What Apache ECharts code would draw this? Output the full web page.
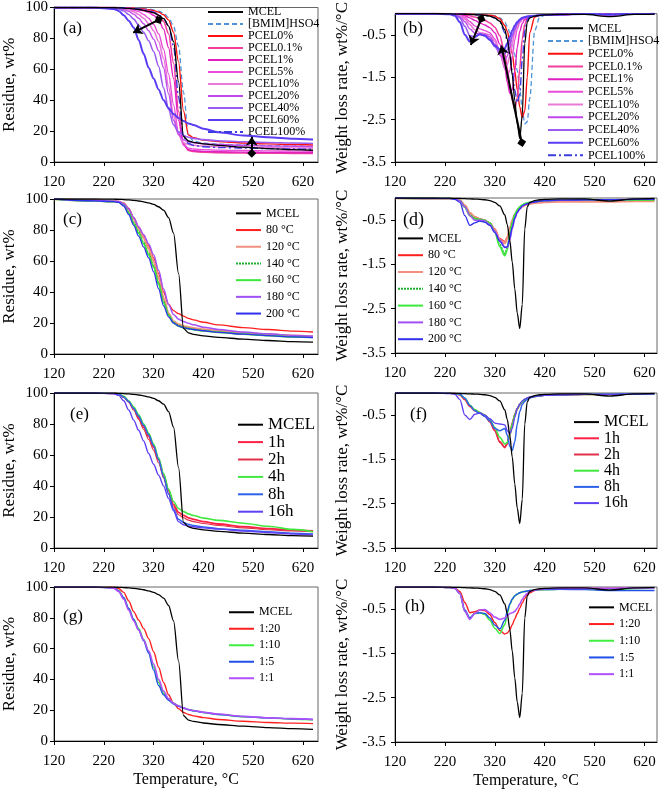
<!DOCTYPE html>
<html><head><meta charset="utf-8">
<script src="https://cdn.jsdelivr.net/npm/echarts@6.0.0/dist/echarts.min.js"></script>
<style>html,body{margin:0;padding:0;background:#fff}#c{width:661px;height:792px}</style>
</head><body><div id="c"></div>
<script>
// ---------- data ----------
const xTicks = [120, 220, 320, 420, 520, 620];
const tgTicks = [0, 20, 40, 60, 80, 100];
const dtgTicks = [-3.5, -2.5, -1.5, -0.5];

// temperature grids (°C)
const tgT  = [120,200,240,250,260,270,280,290,300,310,320,330,340,350,360,370,380,390,400,420,450,500,550,600,640];
const dtgT = [120,200,230,240,250,260,270,280,290,300,310,320,330,340,345,350,355,360,365,370,375,380,385,390,400,410,420,450,500,550,600,640];

// MCEL reference (all panels)
const MCEL_TG  = [100,100,99.9,99.8,99.6,99.4,99.1,98.7,98.2,97.5,96.5,95,92.8,88,78,52,16.5,13.6,12.7,11.7,10.7,9.6,8.7,8.0,7.6];
const MCEL_DTG = [0,0,-0.005,-0.01,-0.01,-0.015,-0.02,-0.025,-0.03,-0.04,-0.06,-0.1,-0.18,-0.38,-0.6,-0.95,-1.45,-2.05,-2.6,-2.95,-2.4,-0.7,-0.2,-0.1,-0.06,-0.04,-0.03,-0.02,-0.02,-0.07,-0.02,-0.01];

// (a) residue
const a_BMIM = [100,100,100,100,100,99.9,99.8,99.6,99.3,99,98.5,97.7,96.3,93.5,88,75,45,17,13.5,12.2,11.5,11,10.6,10.3,10];
const a_P0   = [100,100,100,100,99.9,99.8,99.6,99.3,99,98.6,98,97,95.3,92,84,65,33,17.5,15.8,14.2,13.2,12.3,11.7,11.3,11];
const a_P01  = [100,100,100,99.9,99.8,99.6,99.3,99,98.6,98,97,95,91,83,64,33,12,7.5,6.8,6.3,6,5.8,5.7,5.6,5.5];
const a_P1   = [100,100,100,99.9,99.7,99.4,99,98.5,97.8,96.8,95,92,86,74,54,27,11,8,7.3,6.9,6.6,6.4,6.2,6.1,6];
const a_P5   = [100,100,100,99.8,99.5,99,98.3,97.3,95.5,93,89,83,73,57,37,19,11,9,8.4,8,7.7,7.4,7.2,7.1,7];
const a_P10  = [100,100,99.9,99.7,99.3,98.5,97.3,95.5,93,89.5,85,78,67,49,30,17.5,12.5,11.3,10.8,10.3,9.9,9.5,9.3,9.1,9];
const a_P20  = [100,100,99.9,99.5,98.8,97.6,95.7,93,89.5,85,79.5,72,61,44,27,18,14.3,13,12.4,11.8,11.3,10.8,10.4,10.2,10];
const a_P40  = [100,100,99.7,99,97.7,95.5,92.5,88.5,84,78.5,71.5,62,48,34,24,19.5,17.2,16,15.3,14.5,13.8,13.1,12.6,12.3,12];
const a_P60  = [100,100,99,97.8,95,91.5,87,79,70,61,54,47,40,35,31,28.5,26.5,25,24,21.5,19.2,17.2,16,15,14.5];
const a_P100 = [100,100,100,99.9,99.8,99.6,99.3,99,98.5,97.8,97,95.5,93,88,75,42,16,12,10.7,9.9,9.4,9,8.7,8.4,8.2];

// (b) weight loss rate
const b_BMIM = [0,0,0,0,-0.005,-0.01,-0.01,-0.015,-0.02,-0.025,-0.035,-0.05,-0.1,-0.2,-0.3,-0.45,-0.68,-0.98,-1.35,-1.8,-2.25,-2.6,-2.55,-2.0,-0.4,-0.08,-0.04,-0.02,-0.01,-0.02,-0.01,0];
const b_P0   = [0,0,0,-0.005,-0.01,-0.01,-0.015,-0.02,-0.025,-0.03,-0.04,-0.06,-0.12,-0.28,-0.42,-0.65,-0.95,-1.35,-1.8,-2.2,-2.45,-2.3,-1.5,-0.45,-0.08,-0.04,-0.03,-0.02,-0.01,-0.02,-0.01,0];
const b_P01  = [0,0,0,-0.01,-0.02,-0.03,-0.05,-0.08,-0.12,-0.16,-0.22,-0.32,-0.52,-0.95,-1.3,-1.7,-2.05,-2.25,-2.0,-1.3,-0.6,-0.25,-0.12,-0.08,-0.05,-0.04,-0.03,-0.02,-0.01,-0.02,-0.01,0];
const b_P1   = [0,0,-0.005,-0.01,-0.02,-0.05,-0.1,-0.16,-0.22,-0.27,-0.33,-0.45,-0.72,-1.25,-1.62,-1.88,-1.8,-1.35,-0.8,-0.42,-0.23,-0.14,-0.1,-0.08,-0.05,-0.04,-0.03,-0.02,-0.01,-0.02,-0.01,0];
const b_P5   = [0,0,-0.005,-0.015,-0.035,-0.09,-0.19,-0.29,-0.36,-0.4,-0.45,-0.6,-0.9,-1.3,-1.45,-1.35,-1.0,-0.62,-0.36,-0.21,-0.14,-0.1,-0.08,-0.07,-0.05,-0.04,-0.03,-0.02,-0.01,-0.02,-0.01,0];
const b_P10  = [0,0,-0.01,-0.02,-0.05,-0.13,-0.26,-0.38,-0.45,-0.47,-0.5,-0.65,-0.95,-1.25,-1.2,-1.0,-0.7,-0.45,-0.28,-0.18,-0.12,-0.09,-0.07,-0.06,-0.05,-0.04,-0.03,-0.02,-0.01,-0.02,-0.01,0];
const b_P20  = [0,0,-0.01,-0.025,-0.07,-0.19,-0.36,-0.46,-0.49,-0.49,-0.55,-0.72,-0.98,-1.1,-1.0,-0.8,-0.55,-0.38,-0.25,-0.16,-0.11,-0.09,-0.07,-0.06,-0.05,-0.04,-0.03,-0.02,-0.01,-0.02,-0.01,0];
const b_P40  = [0,0,-0.01,-0.03,-0.1,-0.3,-0.52,-0.55,-0.5,-0.52,-0.6,-0.78,-0.92,-0.95,-0.85,-0.7,-0.5,-0.35,-0.24,-0.16,-0.11,-0.09,-0.07,-0.06,-0.05,-0.04,-0.03,-0.02,-0.01,-0.02,-0.01,0];
const b_P60  = [0,0,-0.015,-0.05,-0.2,-0.5,-0.66,-0.55,-0.48,-0.52,-0.62,-0.75,-0.84,-0.82,-0.7,-0.55,-0.4,-0.28,-0.2,-0.14,-0.1,-0.08,-0.07,-0.06,-0.05,-0.04,-0.03,-0.02,-0.01,-0.02,-0.01,0];
const b_P100 = [0,0,0,-0.005,-0.01,-0.015,-0.02,-0.025,-0.03,-0.04,-0.06,-0.1,-0.2,-0.45,-0.65,-0.95,-1.35,-1.8,-2.1,-1.9,-1.1,-0.4,-0.15,-0.08,-0.05,-0.04,-0.03,-0.02,-0.01,-0.02,-0.01,0];

// (c) residue, pretreatment temperature
const c_80  = [100,99.2,98.6,98.3,97.5,94,88,82,76,70,62,52,40,32,28,26,24.5,23,22,20.5,18.8,17,15.8,14.8,14.2];
const c_120 = [100,99,98.5,98.2,97,93,87,81,75,68,60,49,36,26,21,19,18,17.3,16.7,15.8,14.8,13.6,12.6,11.8,11.3];
const c_140 = [100,98.8,98.3,98,96.5,91.5,85,79,72,65,57,46,34,25,20.5,18.5,17.5,16.7,16,15.2,14.2,13,12,11.2,10.8];
const c_160 = [100,98.8,98.3,98,96,91,84,78,71,64,56,45,33,25,20,18,17,16.3,15.7,14.9,14,12.8,11.8,11.1,10.7];
const c_180 = [100,99,98.6,98.4,97,93.5,88,82,77,71,64,54,42,32,25.5,22.5,21,19.8,18.8,17.3,15.8,14.2,13,12,11.5];
const c_200 = [100,98.8,98.3,97.8,95.5,90,83,76,69,62,53,42,31,24,20,18,17,16.3,15.8,15,14,12.8,11.8,11,10.6];

// (d) weight loss rate, pretreatment temperature
const d_80  = [0,-0.01,-0.01,-0.02,-0.05,-0.18,-0.35,-0.43,-0.47,-0.5,-0.56,-0.7,-0.92,-0.98,-0.88,-0.68,-0.5,-0.37,-0.28,-0.22,-0.18,-0.15,-0.13,-0.12,-0.1,-0.08,-0.07,-0.06,-0.05,-0.05,-0.04,-0.04];
const d_120 = [0,-0.01,-0.01,-0.02,-0.05,-0.17,-0.34,-0.43,-0.48,-0.52,-0.58,-0.72,-0.95,-1.02,-0.92,-0.72,-0.52,-0.38,-0.29,-0.23,-0.19,-0.16,-0.14,-0.13,-0.11,-0.1,-0.09,-0.08,-0.08,-0.08,-0.07,-0.07];
const d_140 = [0,-0.01,-0.01,-0.02,-0.06,-0.2,-0.38,-0.45,-0.48,-0.5,-0.56,-0.75,-1.05,-1.25,-1.12,-0.82,-0.55,-0.38,-0.27,-0.2,-0.16,-0.13,-0.11,-0.1,-0.08,-0.07,-0.06,-0.05,-0.04,-0.05,-0.04,-0.04];
const d_160 = [0,-0.01,-0.01,-0.02,-0.06,-0.21,-0.4,-0.47,-0.49,-0.51,-0.57,-0.77,-1.1,-1.3,-1.17,-0.85,-0.56,-0.38,-0.27,-0.2,-0.16,-0.13,-0.11,-0.1,-0.08,-0.07,-0.06,-0.05,-0.04,-0.05,-0.04,-0.04];
const d_180 = [0,-0.01,-0.01,-0.02,-0.06,-0.2,-0.4,-0.5,-0.5,-0.52,-0.6,-0.75,-0.95,-1.1,-1.12,-0.95,-0.7,-0.48,-0.34,-0.25,-0.19,-0.15,-0.13,-0.11,-0.09,-0.07,-0.06,-0.05,-0.04,-0.04,-0.03,-0.03];
const d_200 = [0,-0.01,-0.01,-0.03,-0.1,-0.4,-0.62,-0.56,-0.52,-0.55,-0.62,-0.78,-0.98,-1.12,-1.1,-0.9,-0.65,-0.45,-0.32,-0.24,-0.18,-0.15,-0.13,-0.11,-0.09,-0.07,-0.06,-0.05,-0.04,-0.04,-0.03,-0.03];

// (e) residue, pretreatment time
const e_1h  = [100,100,99.8,99.3,97.5,94.5,90,84,78,72,65,57,47,37,28,23,21,19.5,18.5,17,15.5,13.8,12.5,11.5,11];
const e_2h  = [100,100,99.8,99.2,97.3,94,89,83,76.5,70,63,55,45,35,26.5,21.5,19.5,18,17,15.8,14.5,13,11.8,11,10.5];
const e_4h  = [100,100,99.8,99.4,97.8,95,91,86,80,74,67,58,48,38,30,25.5,23.5,22,21,19.3,17.8,16,14,12,10.5];
const e_8h  = [100,100,99.8,99.3,97.5,94.5,90,85,79,73,66,57,46,35,25,18.5,16.5,15.3,14.5,13.5,12.5,11.5,10.5,9.5,9];
const e_16h = [100,100,99.5,98.5,95,89,82.5,76,69,61,54,47,40,32,24,17,15,14.2,13.7,13,12.2,11,10,9,8.5];

// (f) weight loss rate, pretreatment time
const f_1h  = [0,0,-0.005,-0.01,-0.04,-0.15,-0.3,-0.4,-0.45,-0.52,-0.65,-0.85,-1.1,-1.22,-1.15,-0.95,-0.7,-0.5,-0.36,-0.27,-0.2,-0.15,-0.12,-0.1,-0.08,-0.06,-0.05,-0.04,-0.03,-0.03,-0.02,-0.02];
const f_2h  = [0,0,-0.005,-0.01,-0.04,-0.14,-0.28,-0.38,-0.44,-0.5,-0.63,-0.85,-1.12,-1.24,-1.12,-0.9,-0.66,-0.47,-0.34,-0.25,-0.19,-0.15,-0.12,-0.1,-0.08,-0.06,-0.05,-0.04,-0.03,-0.03,-0.02,-0.02];
const f_4h  = [0,0,-0.005,-0.01,-0.03,-0.12,-0.27,-0.38,-0.44,-0.5,-0.6,-0.78,-1.0,-1.15,-1.12,-0.95,-0.7,-0.5,-0.36,-0.26,-0.2,-0.15,-0.12,-0.1,-0.08,-0.06,-0.05,-0.04,-0.03,-0.03,-0.02,-0.02];
const f_8h  = [0,0,-0.005,-0.01,-0.03,-0.12,-0.28,-0.4,-0.46,-0.53,-0.63,-0.8,-0.85,-0.8,-0.95,-1.2,-1.3,-1.1,-0.7,-0.42,-0.26,-0.19,-0.14,-0.11,-0.08,-0.06,-0.05,-0.04,-0.03,-0.03,-0.02,-0.02];
const f_16h = [0,0,-0.01,-0.03,-0.15,-0.5,-0.6,-0.48,-0.45,-0.5,-0.58,-0.68,-0.7,-0.72,-0.85,-0.92,-0.8,-0.55,-0.35,-0.25,-0.18,-0.14,-0.11,-0.09,-0.07,-0.06,-0.05,-0.04,-0.03,-0.03,-0.02,-0.02];

// (g) residue, catalyst ratio
const g_120 = [100,100,99.8,99,96.5,91,84,78.5,73,66.5,58,48,38,30,24.5,21,18.5,17.2,16.3,15.2,14,12.8,12,11.6,11.3];
const g_110 = [100,100,99.5,97.5,93,86,79,73,66,58,48,38,31,27,24.5,22.8,21.5,20.5,19.7,18.5,17.2,15.8,15,14.2,13.8];
const g_15  = [100,100,99.5,97.5,93,86,79,72,65,57,46,36,30,26.5,24,22.5,21.3,20.3,19.6,18.5,17.2,15.8,15,14.4,14];
const g_11  = [100,100,99.3,97,92,85,78,72,65.5,58.5,50,40,32.5,27.5,24.5,22.8,21.5,20.5,19.8,18.7,17.5,16,15,14.5,14];

// (h) weight loss rate, catalyst ratio
const h_120 = [0,0,-0.01,-0.02,-0.1,-0.35,-0.58,-0.56,-0.52,-0.53,-0.62,-0.8,-0.98,-1.06,-1.04,-0.97,-0.85,-0.72,-0.6,-0.48,-0.36,-0.26,-0.18,-0.13,-0.08,-0.06,-0.05,-0.03,-0.03,-0.03,-0.02,-0.02];
const h_110 = [0,0,-0.01,-0.03,-0.15,-0.55,-0.7,-0.6,-0.58,-0.62,-0.75,-0.93,-1.05,-0.85,-0.6,-0.4,-0.28,-0.2,-0.16,-0.13,-0.11,-0.1,-0.09,-0.08,-0.07,-0.06,-0.06,-0.05,-0.05,-0.07,-0.03,-0.02];
const h_15  = [0,0,-0.01,-0.03,-0.15,-0.52,-0.7,-0.6,-0.58,-0.6,-0.7,-0.86,-0.95,-0.75,-0.55,-0.38,-0.27,-0.2,-0.16,-0.13,-0.11,-0.1,-0.09,-0.08,-0.07,-0.06,-0.06,-0.05,-0.06,-0.08,-0.08,-0.08];
const h_11  = [0,0,-0.01,-0.03,-0.15,-0.55,-0.73,-0.6,-0.52,-0.51,-0.58,-0.68,-0.73,-0.7,-0.65,-0.6,-0.58,-0.55,-0.48,-0.38,-0.28,-0.2,-0.14,-0.1,-0.07,-0.05,-0.04,-0.03,-0.03,-0.03,-0.02,-0.02];

// annotation arrows (data coordinates)
const arrowsA = [[[279, 83.7], [330, 92]], [[517, 16.3], [517, 5.6]]];
const arrowsB = [[[272, -0.74], [293, -0.12]], [[333, -0.75], [374, -3.04]]];

// ---------- styles ----------
const FONT = "'Liberation Serif','Times New Roman',serif";
const STY = {
  'MCEL': {c: '#000000', w: 1.3},
  '[BMIM]HSO4': {c: '#4f94d8', w: 1.3, t: [5, 3]},
  'PCEL0%': {c: '#ff1010', w: 1.4},
  'PCEL0.1%': {c: '#f0409c', w: 1.6},
  'PCEL1%': {c: '#e020c0', w: 1.4},
  'PCEL5%': {c: '#e84cd8', w: 1.4},
  'PCEL10%': {c: '#ea7ad8', w: 1.6},
  'PCEL20%': {c: '#c048ec', w: 1.4},
  'PCEL40%': {c: '#9a5cf0', w: 1.6},
  'PCEL60%': {c: '#5a3cf2', w: 2.0},
  'PCEL100%': {c: '#3c3ce0', w: 1.4, t: [8, 3, 2, 3]},
  '80 °C': {c: '#ff2020', w: 1.3},
  '120 °C': {c: '#f29080', w: 2.4},
  '140 °C': {c: '#20b030', w: 1.3, t: [2, 1]},
  '160 °C': {c: '#3ce83c', w: 1.8},
  '180 °C': {c: '#a050f5', w: 1.5},
  '200 °C': {c: '#3030f0', w: 1.3},
  '1h': {c: '#ff2045', w: 1.8},
  '2h': {c: '#e0304a', w: 1.1},
  '4h': {c: '#40e840', w: 1.6},
  '8h': {c: '#2f62ea', w: 1.5},
  '16h': {c: '#6040f5', w: 1.4},
  '1:20': {c: '#ff2020', w: 1.4},
  '1:10': {c: '#40ee40', w: 1.6},
  '1:5': {c: '#2050e8', w: 1.4},
  '1:1': {c: '#b050ff', w: 1.6}
};

const panels = [
  {label: '(a)', kind: 'tg', T: tgT, lines: [['MCEL', MCEL_TG], ['[BMIM]HSO4', a_BMIM], ['PCEL0%', a_P0], ['PCEL0.1%', a_P01], ['PCEL1%', a_P1], ['PCEL5%', a_P5], ['PCEL10%', a_P10], ['PCEL20%', a_P20], ['PCEL40%', a_P40], ['PCEL60%', a_P60], ['PCEL100%', a_P100]],
   grid: {left: 53, top: 7, width: 265, height: 155}, lab: [63, 20, 17],
   leg: {left: 207, top: 6, iw: 35, lh: 11.5, fs: 12}, arrows: arrowsA},
  {label: '(b)', kind: 'dtg', T: dtgT, lines: [['MCEL', MCEL_DTG], ['[BMIM]HSO4', b_BMIM], ['PCEL0%', b_P0], ['PCEL0.1%', b_P01], ['PCEL1%', b_P1], ['PCEL5%', b_P5], ['PCEL10%', b_P10], ['PCEL20%', b_P20], ['PCEL40%', b_P40], ['PCEL60%', b_P60], ['PCEL100%', b_P100]],
   grid: {left: 395, top: 6, width: 262, height: 156}, lab: [403, 20, 17],
   leg: {left: 547, top: 22, iw: 35, lh: 12.7, fs: 12}, arrows: arrowsB},
  {label: '(c)', kind: 'tg', T: tgT, lines: [['MCEL', MCEL_TG], ['80 °C', c_80], ['120 °C', c_120], ['140 °C', c_140], ['160 °C', c_160], ['180 °C', c_180], ['200 °C', c_200]],
   grid: {left: 53, top: 199, width: 265, height: 155}, lab: [63, 211, 17],
   leg: {left: 235, top: 205, iw: 25, lh: 16.7, fs: 12}},
  {label: '(d)', kind: 'dtg', T: dtgT, lines: [['MCEL', MCEL_DTG], ['80 °C', d_80], ['120 °C', d_120], ['140 °C', d_140], ['160 °C', d_160], ['180 °C', d_180], ['200 °C', d_200]],
   grid: {left: 395, top: 198, width: 262, height: 155}, lab: [403, 211, 18],
   leg: {left: 397, top: 230, iw: 25, lh: 16.8, fs: 12}},
  {label: '(e)', kind: 'tg', T: tgT, lines: [['MCEL', MCEL_TG], ['1h', e_1h], ['2h', e_2h], ['4h', e_4h], ['8h', e_8h], ['16h', e_16h]],
   grid: {left: 53, top: 393, width: 265, height: 155}, lab: [70, 406, 17],
   leg: {left: 237, top: 416, iw: 25, lh: 17.4, fs: 17}},
  {label: '(f)', kind: 'dtg', T: dtgT, lines: [['MCEL', MCEL_DTG], ['1h', f_1h], ['2h', f_2h], ['4h', f_4h], ['8h', f_8h], ['16h', f_16h]],
   grid: {left: 395, top: 393, width: 262, height: 155}, lab: [410, 406, 17],
   leg: {left: 573, top: 414, iw: 25, lh: 16.2, fs: 16}},
  {label: '(g)', kind: 'tg', T: tgT, lines: [['MCEL', MCEL_TG], ['1:20', g_120], ['1:10', g_110], ['1:5', g_15], ['1:1', g_11]],
   grid: {left: 53, top: 587, width: 265, height: 154}, lab: [63, 608, 17],
   leg: {left: 228, top: 604, iw: 25, lh: 16.5, fs: 12}, bottom: true},
  {label: '(h)', kind: 'dtg', T: dtgT, lines: [['MCEL', MCEL_DTG], ['1:20', h_120], ['1:10', h_110], ['1:5', h_15], ['1:1', h_11]],
   grid: {left: 395, top: 587, width: 262, height: 155}, lab: [405, 598, 17],
   leg: {left: 588, top: 599, iw: 25, lh: 16.7, fs: 12}, bottom: true}
];

// ---------- build option ----------
const grid = [], xAxis = [], yAxis = [], series = [], legend = [], title = [];
panels.forEach((p, i) => {
  const isLeft = p.kind === 'tg';
  grid.push(Object.assign({show: true, borderColor: '#666', borderWidth: 1, backgroundColor: 'transparent'}, p.grid));
  xAxis.push({
    gridIndex: i, type: 'value', min: 120, max: isLeft ? 650 : 645, interval: 100,
    axisLine: {show: true, onZero: false, lineStyle: {color: '#000', width: 1}},
    axisTick: {show: true, customValues: xTicks, length: 4, lineStyle: {color: '#000'}},
    axisLabel: {customValues: xTicks, margin: 13, fontFamily: FONT, fontSize: 15, color: '#000'},
    splitLine: {show: false},
    name: p.bottom ? 'Temperature, °C' : '', nameLocation: 'middle', nameGap: 31,
    nameTextStyle: {fontFamily: FONT, fontSize: 16, color: '#000'}
  });
  yAxis.push({
    gridIndex: i, type: 'value',
    min: isLeft ? 0 : -3.5, max: isLeft ? 100 : 0, interval: isLeft ? 20 : 1,
    axisLine: {show: true, onZero: false, lineStyle: {color: '#000', width: 1}},
    axisTick: {show: true, customValues: isLeft ? tgTicks : dtgTicks, length: 4, lineStyle: {color: '#000'}},
    axisLabel: {customValues: isLeft ? tgTicks : dtgTicks, margin: isLeft ? 6 : 9, fontFamily: FONT, fontSize: 15, color: '#000'},
    splitLine: {show: false},
    name: isLeft ? 'Residue, wt%' : 'Weight loss rate, wt%/°C',
    nameLocation: 'middle', nameGap: isLeft ? 36 : 44,
    nameTextStyle: {fontFamily: FONT, fontSize: 17, color: '#000'}
  });
  p.lines.forEach(([name, vals], k) => {
    const s = STY[name];
    const ser = {
      type: 'line', name: name, xAxisIndex: i, yAxisIndex: i,
      data: p.T.map((t, j) => [t, vals[j]]),
      symbol: 'none', showSymbol: false, smooth: 0.3, smoothMonotone: 'x',
      lineStyle: {color: s.c, width: s.w, type: s.t || 'solid'},
      itemStyle: {color: s.c},
      z: name === 'MCEL' ? 3 : 2
    };
    if (k === 0 && p.arrows) {
      ser.markLine = {
        silent: true, animation: false, symbolSize: 9,
        label: {show: false},
        lineStyle: {color: '#000', width: 2, type: 'solid'},
        emphasis: {disabled: true},
        data: p.arrows.map(([s1, s2]) => [{coord: s1, symbol: 'arrow'}, {coord: s2, symbol: 'diamond'}])
      };
    }
    series.push(ser);
  });
  legend.push({
    data: p.lines.map(l => l[0]), orient: 'vertical', left: p.leg.left, top: p.leg.top,
    itemWidth: p.leg.iw, itemHeight: 6, itemGap: 0, padding: 0, selectedMode: false,
    itemStyle: {opacity: 0},
    textStyle: {fontFamily: FONT, fontSize: p.leg.fs, color: '#000', lineHeight: p.leg.lh}
  });
  title.push({
    text: p.label, left: p.lab[0], top: p.lab[1], padding: 0,
    textStyle: {fontFamily: FONT, fontSize: p.lab[2], fontWeight: 'normal', color: '#000'}
  });
});

const chart = echarts.init(document.getElementById('c'), null, {renderer: 'canvas'});
chart.setOption({animation: false, backgroundColor: '#fff', grid, xAxis, yAxis, series, legend, title});
</script></body></html>
